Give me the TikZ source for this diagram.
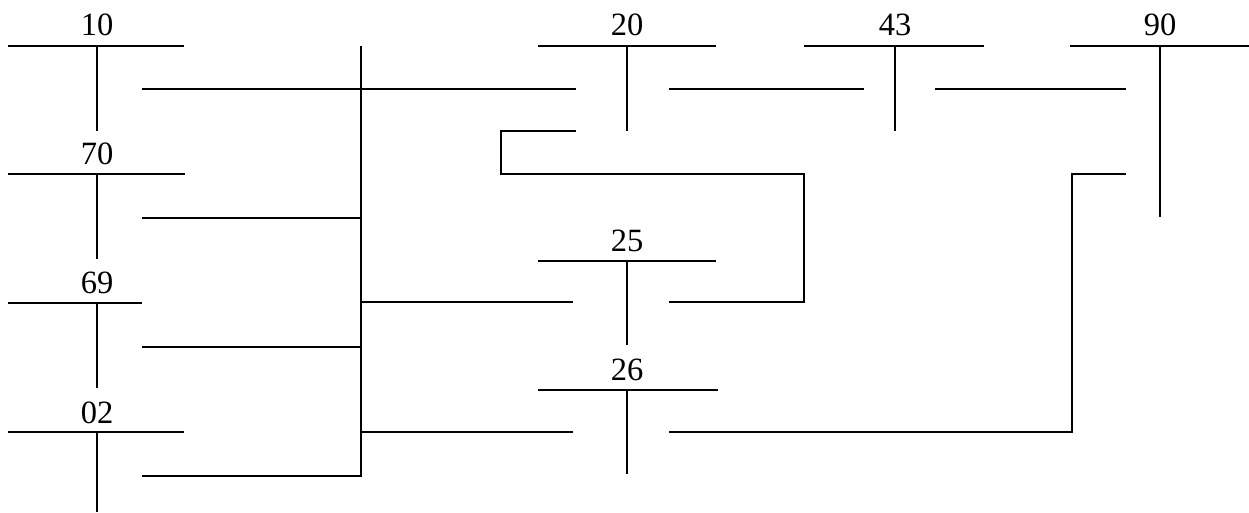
\documentclass[tikz,border=0pt]{standalone}
\usepackage{fontspec}
\setmainfont{Liberation Serif}
\begin{document}
\begin{tikzpicture}[x=1pt,y=-1pt,
  wire/.style={line width=1.9pt, line join=miter},
  lbl/.style={anchor=base, inner sep=0pt, font=\fontsize{32.5}{39}\selectfont}]
\useasboundingbox (0,0) rectangle (1249,513);
% labels
\node[lbl] (l10) at (97,36) {10};
\node[lbl] (l70) at (97,165) {70};
\node[lbl] (l69) at (97,293) {69};
\node[lbl] (l02) at (97,423) {02};
\node[lbl] (l20) at (627,36) {20};
\node[lbl] (l43) at (895,36) {43};
\node[lbl] (l90) at (1160,36) {90};
\node[lbl] (l25) at (627,251) {25};
\node[lbl] (l26) at (627,380) {26};
% bus bars
\coordinate (b10a) at (8,46);   \coordinate (b10b) at (184,46);
\coordinate (b70a) at (8,174);  \coordinate (b70b) at (185,174);
\coordinate (b69a) at (8,303);  \coordinate (b69b) at (142,303);
\coordinate (b02a) at (8,432);  \coordinate (b02b) at (184,432);
\coordinate (b20a) at (538,46); \coordinate (b20b) at (716,46);
\coordinate (b43a) at (804,46); \coordinate (b43b) at (984,46);
\coordinate (b90a) at (1070,46); \coordinate (b90b) at (1249,46);
\coordinate (b25a) at (538,261); \coordinate (b25b) at (716,261);
\coordinate (b26a) at (538,390); \coordinate (b26b) at (718,390);
\foreach \b in {10,70,69,02,20,43,90,25,26}
  \draw[wire] (b\b a) -- (b\b b);
% stems
\coordinate (s10t) at (97,46);  \coordinate (s10b) at (97,131);
\coordinate (s70t) at (97,174); \coordinate (s70b) at (97,259);
\coordinate (s69t) at (97,303); \coordinate (s69b) at (97,388);
\coordinate (s02t) at (97,432); \coordinate (s02b) at (97,512);
\coordinate (s20t) at (627,46); \coordinate (s20b) at (627,131);
\coordinate (s43t) at (895,46); \coordinate (s43b) at (895,131);
\coordinate (s90t) at (1160,46); \coordinate (s90b) at (1160,217);
\coordinate (s25t) at (627,261); \coordinate (s25b) at (627,345);
\coordinate (s26t) at (627,390); \coordinate (s26b) at (627,474);
\foreach \b in {10,70,69,02,20,43,90,25,26}
  \draw[wire] (s\b t) -- (s\b b);
% main vertical connector
\coordinate (vtop) at (361,46);
\coordinate (c02) at (142,476);
\draw[wire] (c02) -| (vtop);
\coordinate (c10) at (142,89);  \coordinate (c20l) at (576,89);
\draw[wire] (c10) -- (c20l);
\coordinate (c70) at (142,218); \coordinate (v70) at (361,218);
\draw[wire] (c70) -- (v70);
\coordinate (c69) at (142,347); \coordinate (v69) at (361,347);
\draw[wire] (c69) -- (v69);
\coordinate (v25) at (361,302); \coordinate (c25l) at (573,302);
\draw[wire] (v25) -- (c25l);
\coordinate (v26) at (361,432); \coordinate (c26l) at (573,432);
\draw[wire] (v26) -- (c26l);
% 20 - 43 - 90
\coordinate (c20r) at (669,89); \coordinate (c43l) at (864,89);
\draw[wire] (c20r) -- (c43l);
\coordinate (c43r) at (935,89); \coordinate (c90l) at (1126,89);
\draw[wire] (c43r) -- (c90l);
% 20 - 25
\coordinate (c20d) at (576,131); \coordinate (c25r) at (669,302);
\draw[wire] (c20d) -- (501,131) -- (501,174) -- (804,174) -- (804,302) -- (c25r);
% 26 - 90
\coordinate (c26r) at (669,432); \coordinate (c90d) at (1126,174);
\draw[wire] (c26r) -- (1072,432) -- (1072,174) -- (c90d);
\end{tikzpicture}
\end{document}
